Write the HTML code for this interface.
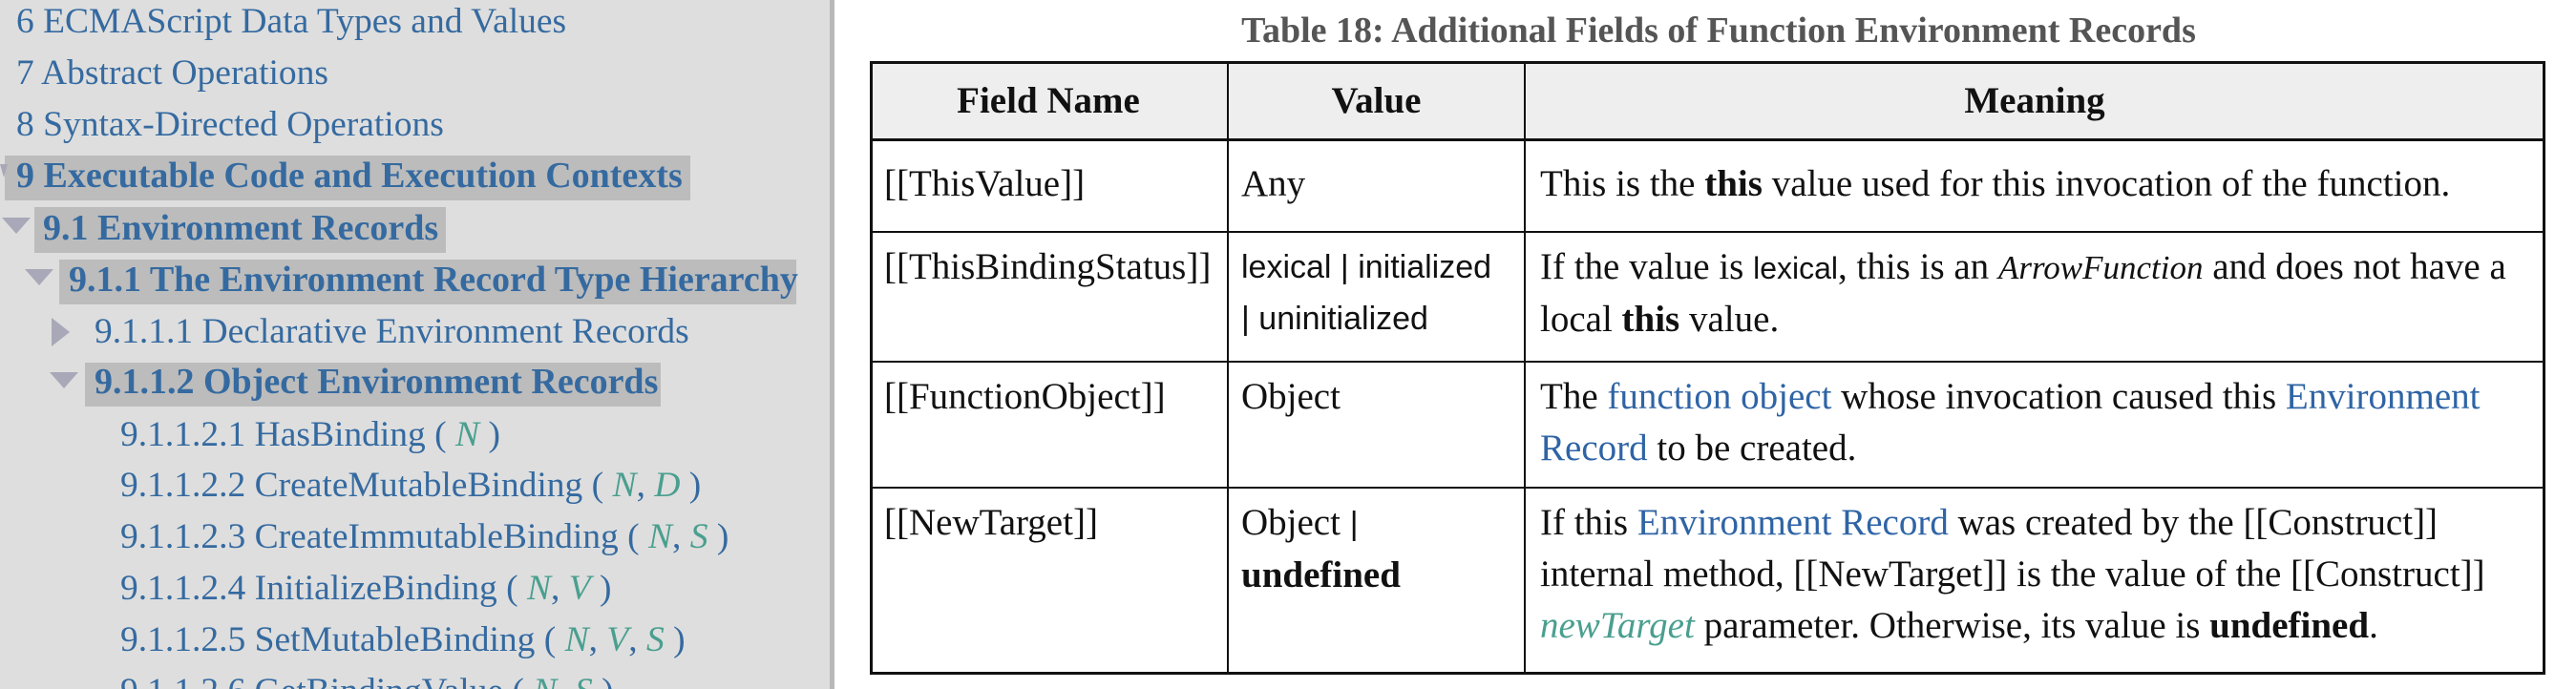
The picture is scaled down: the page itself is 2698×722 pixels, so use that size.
<!DOCTYPE html>
<html><head><meta charset="utf-8"><style>
html,body{margin:0;padding:0;width:2698px;height:722px;overflow:hidden;background:#fff;}
#side{position:absolute;left:0;top:0;width:869px;height:722px;overflow:hidden;background:#dedede;border-right:5px solid #b8b8b8;font-family:"Liberation Serif",serif;font-size:37.5px;color:#356aa0;}
.it{position:absolute;white-space:nowrap;line-height:48px;}
.hl{position:absolute;background:#bcbcbc;}
.b{font-weight:bold;}
.it.b{font-size:38px;}
.v{color:#4a9f8f;font-style:italic;}
.tri{position:absolute;width:0;height:0;}
#cap{position:absolute;left:1000px;width:1600px;top:10px;text-align:center;font:bold 38px "Liberation Serif",serif;color:#555;}
.c{position:absolute;box-sizing:border-box;font-family:"Liberation Serif",serif;font-size:39px;line-height:54px;color:#111;padding:10px 0 0 0;white-space:nowrap;}
.l{position:absolute;background:#111;}
.lk{color:#2f64a5;}
.s{font-family:"Liberation Sans",sans-serif;font-size:34px;}
</style></head><body>
<div id="side">
<div class="hl" style="left:5px;top:163px;width:718px;height:47px"></div>
<div class="hl" style="left:36px;top:217px;width:431px;height:48px"></div>
<div class="hl" style="left:62px;top:272px;width:772px;height:47px"></div>
<div class="hl" style="left:89px;top:380px;width:603px;height:46px"></div>
<div class="tri" style="left:0;top:172px;border-left:4px solid transparent;border-right:4px solid transparent;border-top:14px solid #a8a8b8"></div>
<div class="tri" style="left:2px;top:228px;border-left:15px solid transparent;border-right:15px solid transparent;border-top:17px solid #a8a8b8"></div>
<div class="tri" style="left:26px;top:282px;border-left:15px solid transparent;border-right:15px solid transparent;border-top:17px solid #a8a8b8"></div>
<div class="tri" style="left:54px;top:333px;border-top:15px solid transparent;border-bottom:15px solid transparent;border-left:19px solid #a8a8b8"></div>
<div class="tri" style="left:52px;top:390px;border-left:15px solid transparent;border-right:15px solid transparent;border-top:17px solid #a8a8b8"></div>
<div class="it" style="left:17px;top:-1px">6 ECMAScript Data Types and Values</div>
<div class="it" style="left:17px;top:53px">7 Abstract Operations</div>
<div class="it" style="left:17px;top:107px">8 Syntax-Directed Operations</div>
<div class="it b" style="left:17px;top:160px">9 Executable Code and Execution Contexts</div>
<div class="it b" style="left:45px;top:215px">9.1 Environment Records</div>
<div class="it b" style="left:72px;top:269px">9.1.1 The Environment Record Type Hierarchy</div>
<div class="it" style="left:99px;top:324px">9.1.1.1 Declarative Environment Records</div>
<div class="it b" style="left:99px;top:376px">9.1.1.2 Object Environment Records</div>
<div class="it" style="left:126px;top:432px">9.1.1.2.1 HasBinding ( <span class="v">N</span> )</div>
<div class="it" style="left:126px;top:485px">9.1.1.2.2 CreateMutableBinding ( <span class="v">N</span>, <span class="v">D</span> )</div>
<div class="it" style="left:126px;top:539px">9.1.1.2.3 CreateImmutableBinding ( <span class="v">N</span>, <span class="v">S</span> )</div>
<div class="it" style="left:126px;top:593px">9.1.1.2.4 InitializeBinding ( <span class="v">N</span>, <span class="v">V</span> )</div>
<div class="it" style="left:126px;top:647px">9.1.1.2.5 SetMutableBinding ( <span class="v">N</span>, <span class="v">V</span>, <span class="v">S</span> )</div>
<div class="it" style="left:126px;top:701px">9.1.1.2.6 GetBindingValue ( <span class="v">N</span>, <span class="v">S</span> )</div>
</div>
<div id="cap">Table 18: Additional Fields of Function Environment Records</div>
<div style="position:absolute;left:912px;top:65px;width:1751px;height:81px;background:#eee"></div>
<div class="c b" style="left:912px;width:372px;top:65px;text-align:center;padding-top:14px">Field Name</div>
<div class="c b" style="left:1286px;width:311px;top:65px;text-align:center;padding-top:14px">Value</div>
<div class="c b" style="left:1599px;width:1064px;top:65px;text-align:center;padding-top:14px">Meaning</div>

<div class="c" style="left:926px;top:156px">[[ThisValue]]</div>
<div class="c" style="left:1300px;top:156px">Any</div>
<div class="c" style="left:1613px;top:156px">This is the <b>this</b> value used for this invocation of the function.</div>

<div class="c" style="left:926px;top:243px">[[ThisBindingStatus]]</div>
<div class="c s" style="left:1300px;top:243px;line-height:54px">lexical | initialized<br>| uninitialized</div>
<div class="c" style="left:1613px;top:243px">If the value is <span class="s" style="font-size:32px">lexical</span>, this is an <i style="font-size:35px">ArrowFunction</i> and does not have a<br>local <b>this</b> value.</div>

<div class="c" style="left:926px;top:379px">[[FunctionObject]]</div>
<div class="c" style="left:1300px;top:379px">Object</div>
<div class="c" style="left:1613px;top:379px">The <span class="lk">function object</span> whose invocation caused this <span class="lk">Environment</span><br><span class="lk">Record</span> to be created.</div>

<div class="c" style="left:926px;top:511px">[[NewTarget]]</div>
<div class="c" style="left:1300px;top:511px">Object <span class="s">|</span><br><b>undefined</b></div>
<div class="c" style="left:1613px;top:511px">If this <span class="lk">Environment Record</span> was created by the [[Construct]]<br>internal method, [[NewTarget]] is the value of the [[Construct]]<br><span class="v">newTarget</span> parameter. Otherwise, its value is <b>undefined</b>.</div>

<div class="l" style="left:911px;top:64px;width:1755px;height:3px"></div>
<div class="l" style="left:911px;top:145px;width:1755px;height:3px"></div>
<div class="l" style="left:911px;top:242px;width:1755px;height:2px"></div>
<div class="l" style="left:911px;top:378px;width:1755px;height:2px"></div>
<div class="l" style="left:911px;top:510px;width:1755px;height:2px"></div>
<div class="l" style="left:911px;top:704px;width:1755px;height:3px"></div>
<div class="l" style="left:911px;top:64px;width:3px;height:643px"></div>
<div class="l" style="left:1285px;top:64px;width:2px;height:643px"></div>
<div class="l" style="left:1596px;top:64px;width:2px;height:643px"></div>
<div class="l" style="left:2663px;top:64px;width:3px;height:643px"></div>
</body></html>
